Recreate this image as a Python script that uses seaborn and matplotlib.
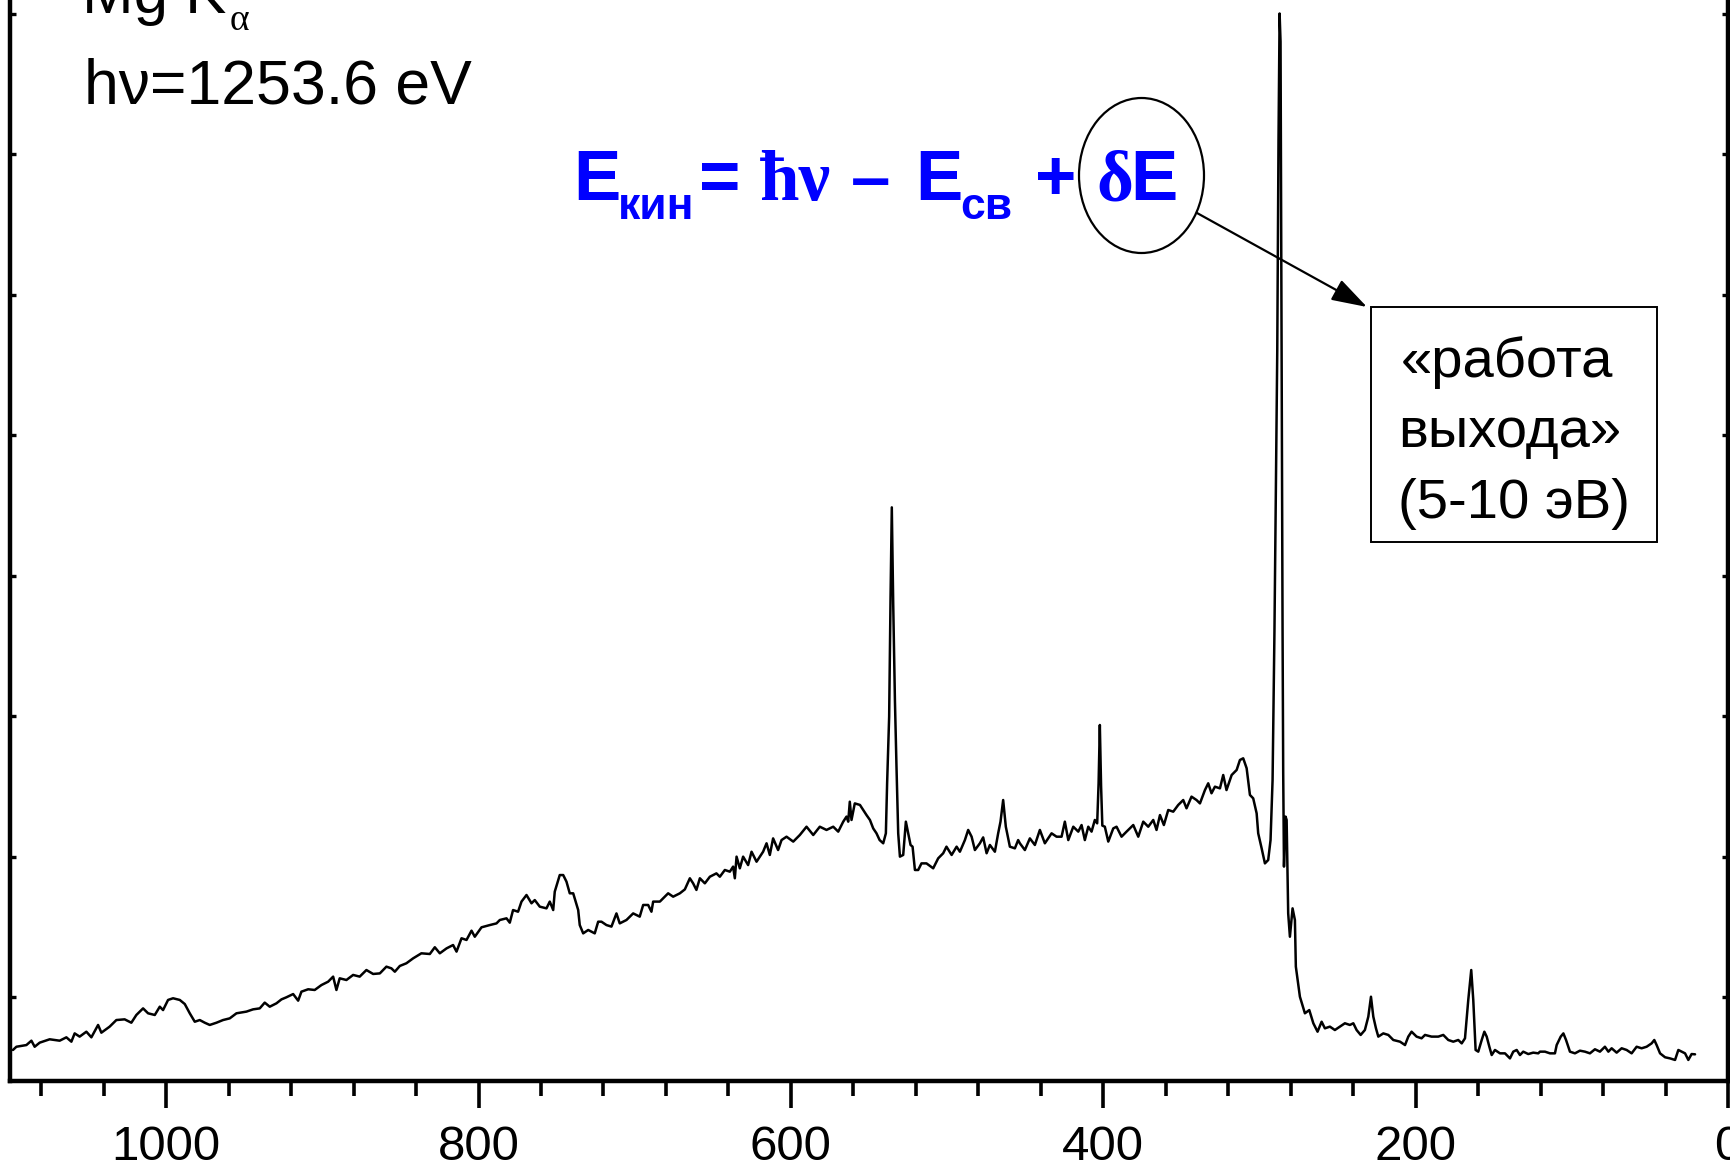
import matplotlib
matplotlib.use("Agg")
import matplotlib.pyplot as plt
from matplotlib.patches import Ellipse, Rectangle, FancyArrowPatch
from matplotlib.ticker import MultipleLocator
import pandas as pd
import seaborn as sns

# XPS survey spectrum (Mg Ka excitation): binding energy, eV
binding_energy = [
    1098.1, 1095.9, 1089.5, 1086.3, 1084.2, 1081.0, 1074.6, 1068.2, 1063.9, 1060.7,
    1058.6, 1055.4, 1051.1, 1047.9, 1043.6, 1041.5, 1036.2, 1031.9, 1026.6, 1022.3,
    1019.1, 1014.8, 1011.6, 1007.3, 1004.1, 1002.0, 998.8, 995.6, 991.3, 988.1,
    984.9, 981.7, 978.5, 975.3, 972.1, 967.8, 963.6, 959.3, 955.0, 948.6,
    944.4, 940.1, 936.9, 933.7, 929.4, 926.2, 923.0, 918.7, 915.5, 913.4,
    909.1, 904.9, 900.6, 896.3, 893.1, 891.0, 888.9, 884.6, 880.3, 876.1,
    871.8, 867.5, 863.2, 859.0, 855.8, 853.6, 850.4, 846.2, 841.9, 836.6,
    831.2, 828.0, 824.8, 820.5, 816.3, 814.1, 810.9, 807.7, 804.5, 802.4,
    798.1, 792.8, 788.5,
    786.4, 782.1, 780.0, 777.9, 774.7, 772.5, 769.3, 766.1, 764.0, 760.8,
    756.5, 754.4, 752.2, 751.2, 748.0, 745.8, 743.7, 741.6, 739.4, 736.2,
    735.2, 733.0, 729.8, 725.6, 723.4, 721.3, 718.1, 714.9, 711.7, 709.6,
    705.3, 701.0, 696.8, 694.6, 691.4, 689.3, 688.2, 683.9, 681.8, 678.6,
    675.4, 671.1, 667.9, 664.7, 662.6, 660.5, 658.3, 655.1, 651.9, 647.7,
    645.5, 642.3, 639.1, 637.0, 635.9, 634.8, 632.7, 630.6, 627.4, 625.2,
    622.0, 617.8, 615.6, 613.5, 611.4, 608.2, 606.0, 602.8, 598.5, 594.3,
    590.0, 585.7, 581.5, 577.2, 572.9, 569.7, 566.5, 564.4, 563.3, 562.3,
    561.2, 559.1, 555.8, 553.7, 551.6, 549.4, 547.3, 545.2, 543.2, 540.9,
    539.2, 538.4, 537.1, 536.2, 535.4, 534.5, 533.4, 532.4, 531.3, 530.2,
    528.1, 526.4, 524.9, 523.4, 522.1, 520.6, 518.5, 516.4, 513.2, 508.9,
    505.7, 502.5, 500.4, 497.1, 493.9, 491.8, 488.6, 486.5, 484.3, 482.2,
    479.0, 476.9, 474.7, 472.6, 469.4, 467.3, 465.8, 464.1, 462.4, 459.8,
    456.6, 454.5,
    453.4, 450.2, 447.0, 443.8, 440.6, 437.4, 433.1, 429.9, 426.7, 424.6,
    422.4, 419.2, 416.0, 413.9, 411.8, 409.6, 407.5, 405.4, 403.9, 403.0,
    402.2, 401.4, 400.6, 399.0, 396.8, 393.6, 391.5, 388.3, 385.1, 380.8,
    377.6, 374.4, 371.2, 368.0, 365.9, 363.7, 361.2, 358.4, 355.2, 352.0,
    348.8, 346.7, 343.5, 340.3, 338.1, 334.9, 332.8, 330.7, 328.5, 325.3,
    323.2, 321.1, 317.8, 314.6, 312.5, 310.4, 308.2, 306.1, 304.0, 301.8,
    300.8, 298.6, 296.5, 294.4, 292.9, 291.6, 290.4, 288.6, 287.8, 287.1,
    286.5, 286.0, 285.2, 284.8, 284.3, 283.3, 282.6, 281.6, 280.5, 278.8,
    277.3, 276.7, 274.1, 270.9, 268.1, 265.5, 262.8, 260.2, 258.1, 254.9,
    251.7, 248.5, 245.3, 242.1, 239.9, 237.8, 235.2, 232.5, 230.3, 228.6,
    227.1, 225.4, 223.9, 220.7, 217.5, 214.3, 210.0, 206.8, 204.7, 202.6,
    199.4, 196.2, 194.0, 189.8, 185.5, 182.3, 179.1, 175.9, 172.7, 170.5,
    168.4, 166.3, 164.4, 163.1, 161.6, 159.9, 157.7, 156.0, 154.5, 152.8,
    151.3, 149.2, 146.0, 142.8, 139.6, 137.5, 135.3, 133.2, 131.1, 127.9,
    124.7, 121.5,
    120.4, 117.2, 114.0, 110.8, 109.7, 107.1, 105.4, 103.7, 101.2, 98.0,
    94.8, 91.6, 88.4, 85.2, 82.0, 78.8, 76.6, 74.5, 71.3, 68.1,
    64.9, 61.7, 58.5, 55.3, 52.1, 48.9, 47.2, 45.7, 43.5, 40.3,
    37.1, 33.9, 31.8, 29.7, 27.5, 25.4, 23.3, 21.1,
]

# photoelectron intensity, arbitrary units
intensity = [
    6.23, 6.46, 6.58, 6.89, 6.46, 6.75, 6.99, 6.89, 7.13, 6.82,
    7.41, 7.18, 7.53, 7.13, 8.01, 7.46, 7.89, 8.36, 8.41, 8.17,
    8.72, 9.19, 8.84, 8.72, 9.31, 9.07, 9.79, 9.91, 9.79, 9.50,
    8.84, 8.24, 8.36, 8.17, 8.01, 8.17, 8.36, 8.48, 8.84, 8.96,
    9.12, 9.19, 9.60, 9.31, 9.55, 9.83, 9.98, 10.21, 9.74, 10.38,
    10.55, 10.50, 10.85, 11.09, 11.45, 10.50, 11.33, 11.21, 11.57, 11.45,
    11.92, 11.64, 11.68, 12.16, 12.04, 11.80, 12.21, 12.40, 12.75, 13.11,
    13.06, 13.54, 13.11, 13.46, 13.70, 13.23, 14.18, 14.06, 14.72, 14.29,
    14.96, 15.12, 15.24,
    15.48, 15.60, 15.29, 16.19, 16.07, 16.79, 17.26, 16.67, 16.90, 16.43,
    16.31, 16.79, 16.19, 17.50, 18.68, 18.68, 18.21, 17.38, 17.38, 16.19,
    15.12, 14.53, 14.77, 14.53, 15.36, 15.36, 15.12, 15.01, 15.95, 15.24,
    15.48, 15.95, 15.72, 16.55, 16.55, 16.07, 16.79, 16.79, 17.02, 17.38,
    17.14, 17.38, 17.66, 18.45, 18.09, 17.62, 18.45, 18.09, 18.56, 18.80,
    18.56, 19.04, 18.92, 19.28, 18.45, 19.99, 19.16, 19.99, 19.39, 20.34,
    19.63, 20.34, 20.94, 20.11, 21.29, 20.46, 21.17, 21.41, 21.06, 21.53,
    22.12, 21.53, 22.12, 21.89, 22.12, 21.77, 22.48, 22.84, 22.48, 23.90,
    22.60, 23.78, 23.67, 23.31, 22.95, 22.60, 22.00, 21.65, 21.17, 20.94,
    21.65, 25.21, 29.95, 38.50, 44.85, 38.00, 31.10, 26.39, 21.65, 19.99,
    20.11, 22.48, 21.65, 20.82, 20.70, 19.04, 19.04, 19.51, 19.51, 19.16,
    19.87, 20.23, 20.70, 20.11, 20.70, 20.34, 21.17, 21.89, 21.41, 20.46,
    20.94, 21.36, 20.23, 20.82, 20.34, 21.65, 22.48, 24.02, 22.12, 20.70,
    20.58, 21.17,
    20.94, 20.46, 21.29, 20.82, 21.89, 20.94, 21.65, 21.41, 21.41, 22.48,
    21.17, 22.12, 21.77, 22.24, 21.17, 22.12, 21.77, 22.60, 22.36, 25.20,
    29.36, 25.00, 22.20, 22.12, 21.06, 22.00, 22.12, 21.41, 21.77, 22.24,
    21.41, 22.48, 22.12, 22.60, 21.89, 22.95, 22.24, 23.31, 23.19, 23.67,
    24.02, 23.43, 24.26, 24.02, 23.78, 24.73, 25.21, 24.50, 24.97, 24.85,
    25.80, 24.73, 25.80, 26.16, 26.87, 26.99, 26.28, 24.38, 24.14, 23.07,
    21.65, 20.58, 19.51, 19.75, 21.17, 25.44, 36.00, 56.00, 71.00, 80.00,
    78.00, 61.00, 36.00, 26.00, 19.28, 22.84, 22.60, 15.95, 14.29, 16.31,
    15.48, 12.16, 10.02, 8.84, 9.07, 8.13, 7.53, 8.24, 7.77, 7.89,
    7.65, 7.89, 8.13, 8.01, 8.13, 7.65, 7.30, 7.65, 8.60, 10.02,
    8.60, 7.77, 7.18, 7.41, 7.30, 6.94, 6.82, 6.58, 7.18, 7.53,
    7.18, 7.06, 7.30, 7.18, 7.18, 7.30, 6.94, 6.82, 6.94, 6.70,
    7.06, 9.79, 11.92, 9.79, 6.23, 6.11, 6.94, 7.53, 7.18, 6.46,
    5.87, 6.23, 5.99, 5.99, 5.63, 6.11, 6.23, 5.87, 6.11, 5.94,
    6.04, 5.99,
    6.11, 6.11, 5.99, 5.99, 6.58, 7.18, 7.41, 6.94, 6.11, 5.99,
    6.18, 6.11, 5.99, 6.28, 6.11, 6.46, 6.11, 6.35, 6.04, 6.35,
    6.23, 5.99, 6.46, 6.35, 6.46, 6.70, 6.94, 6.58, 5.99, 5.71,
    5.63, 5.52, 6.23, 6.11, 5.99, 5.52, 5.94, 5.92,
]

x_limits = (1100, 0)
y_limits = (4, 90)

W, H = 1731, 1170


def fx(px):
    return px / W


def fy(py):
    return 1 - py / H


sns.set_theme(style="white")
plt.rcParams["font.family"] = ["Liberation Sans", "DejaVu Sans"]
plt.rcParams["text.color"] = "black"
plt.rcParams["xtick.color"] = "black"
plt.rcParams["ytick.color"] = "black"
serif = ["Liberation Serif", "DejaVu Serif"]

fig = plt.figure(figsize=(W / 100, H / 100), dpi=100)
ax = fig.add_axes([fx(10), fy(1081.3), (1728 - 10) / W, (1081.3 + 127) / H])

spectrum = pd.DataFrame({"E": binding_energy, "I": intensity})
sns.lineplot(data=spectrum, x="E", y="I", sort=False, estimator=None,
             color="black", linewidth=1.8, ax=ax)

ax.set_xlim(*x_limits)
ax.set_ylim(*y_limits)
ax.set_xlabel("")
ax.set_ylabel("")
ax.xaxis.set_major_locator(MultipleLocator(200))
ax.xaxis.set_minor_locator(MultipleLocator(40))
ax.yaxis.set_major_locator(MultipleLocator(10))
ax.tick_params(axis="x", which="major", direction="out", length=19.5, width=2.6,
               labelsize=35.5, pad=12, colors="black", labelcolor="black",
               bottom=True)
ax.tick_params(axis="x", which="minor", direction="out", length=11, width=2.6,
               bottom=True)
ax.tick_params(axis="y", which="major", direction="in", length=4, width=2.4,
               left=True, right=True, labelleft=False)
for side in ax.spines.values():
    side.set_visible(True)
    side.set_color("black")
    side.set_linewidth(3.2)

# source annotation
fig.text(fx(82), fy(13), "Mg K", fontsize=44.5, color="black", ha="left", va="baseline")
fig.text(fx(230), fy(30), "α", fontsize=27, family=serif, color="black",
         ha="left", va="baseline")
fig.text(fx(84), fy(103), "hν=1253.6 eV", fontsize=45, color="black",
         ha="left", va="baseline")

# kinetic energy relation
blue = "#0000FF"
big, small = 51, 32
base, sub = 200, 219
pieces = [
    (573, base, "E", big, None),
    (618, sub, "кин", small, None),
    (699, base, "=", big, None),
    (760, base, "ħν", big, serif),
    (851, base, "–", big, None),
    (915, base, "E", big, None),
    (960, sub, "св", small, None),
    (1035, base, "+", big, None),
    (1096, base, "δ", big, serif),
    (1130, base, "E", big, None),
]
for px, py, s, size, fam in pieces:
    kw = {"family": fam} if fam else {}
    fig.text(fx(px), fy(py), s, fontsize=size, fontweight="bold", color=blue,
             ha="left", va="baseline", **kw)

fig.add_artist(Ellipse((fx(1141.5), fy(175.5)), 125 / W, 155 / H,
                       transform=fig.transFigure, fill=False, ec="black", lw=1.6))
fig.add_artist(FancyArrowPatch((fx(1197), fy(213)), (fx(1367), fy(307)),
                               transform=fig.transFigure,
                               arrowstyle="-|>,head_length=1.1,head_width=0.35",
                               mutation_scale=20, lw=1.6, color="black",
                               shrinkA=0, shrinkB=0))

# work function note
fig.add_artist(Rectangle((fx(1371), fy(542)), (1657.5 - 1371) / W, (542 - 307) / H,
                         transform=fig.transFigure, fill=False, ec="black", lw=1.4))
for cx, py, s in [(1507, 377, "«работа"), (1510, 447, "выхода»"),
                  (1514, 518, "(5-10 эВ)")]:
    fig.text(fx(cx), fy(py), s, fontsize=40.5, color="black",
             ha="center", va="baseline")

fig.savefig("out.png", dpi=100)
